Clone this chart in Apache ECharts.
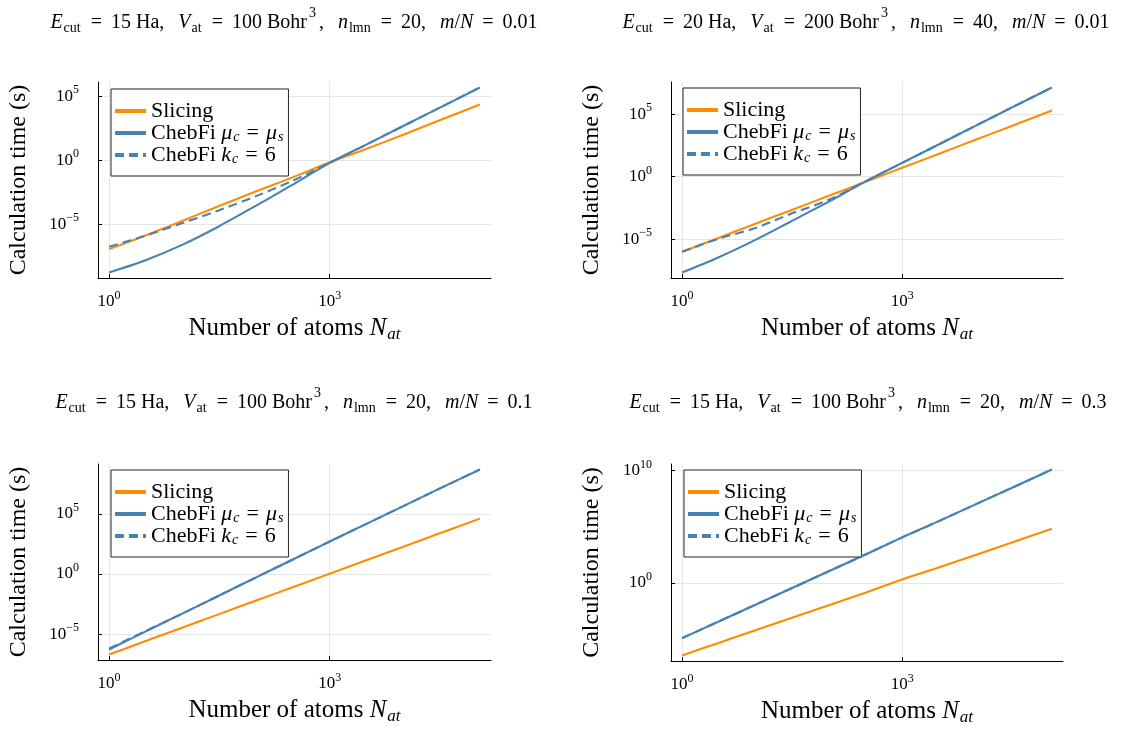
<!DOCTYPE html>
<html>
<head>
<meta charset="utf-8">
<script src="https://cdn.jsdelivr.net/npm/echarts@6/dist/echarts.min.js"></script>
<style>
  html, body { margin: 0; padding: 0; background: #ffffff; }
  #chart { width: 1131px; height: 729px; }
</style>
</head>
<body>
<div id="chart"></div>
<script>
// Number of atoms N_at at which the timings were evaluated
const atoms = [1, 3, 10, 30, 100, 300, 1000, 3000, 10000, 30000, 110000];

// Calculation time (s): Ecut = 15 Ha, Vat = 100 Bohr^3, n_lmn = 20, m/N = 0.01
const slicingA = [1.15e-7, 1.23e-6, 1.91e-5, 2.40e-4, 3.72e-3, 4.17e-2, 0.69, 6.9, 98, 1200, 22400];
const chebMuA  = [1.74e-9, 1.41e-8, 2.57e-7, 6.17e-6, 2.88e-4, 1.07e-2, 0.62, 14.5, 468, 11200, 468000];
const chebKA   = [1.74e-7, 1.2e-6, 1.26e-5, 1.12e-4, 1.58e-3, 2.24e-2, 0.62, 14.5, 468, 11200, 468000];

// Calculation time (s): Ecut = 20 Ha, Vat = 200 Bohr^3, n_lmn = 40, m/N = 0.01
const slicingB = [9.8e-7, 1.15e-5, 1.74e-4, 2.0e-3, 2.95e-2, 0.347, 5.13, 60.3, 891, 10500, 195000];
const chebMuB  = [2.19e-8, 3.16e-7, 8.9e-6, 2.51e-4, 1.0e-2, 0.355, 12.6, 331, 11700, 302000, 1.35e7];
const chebKB   = [9.8e-7, 1.0e-5, 7.9e-5, 1.05e-3, 1.41e-2, 0.355, 12.6, 331, 11700, 302000, 1.35e7];

// Calculation time (s): Ecut = 15 Ha, Vat = 100 Bohr^3, n_lmn = 20, m/N = 0.1
const slicingC = [2.04e-7, 2.4e-6, 3.55e-5, 4.17e-4, 6.17e-3, 7.24e-2, 1.07, 12.6, 186, 2190, 39800];
const chebMuC  = [5.25e-7, 1.45e-5, 5.25e-4, 1.41e-2, 0.525, 13.8, 501, 12600, 436000, 1.12e7, 4.79e8];
const chebKC   = [6.3e-7, 1.58e-5, 5.25e-4, 1.41e-2, 0.525, 13.8, 501, 12600, 436000, 1.12e7, 4.79e8];

// Calculation time (s): Ecut = 15 Ha, Vat = 100 Bohr^3, n_lmn = 20, m/N = 0.3
const slicingD = [3.39e-7, 3.98e-6, 5.89e-5, 6.92e-4, 1.02e-2, 0.117, 2.0, 20.4, 302, 3550, 64600];
const chebMuD  = [1.17e-5, 3.09e-4, 1.12e-2, 0.295, 10.7, 282, 11200, 269000, 9.77e6, 2.57e8, 1.23e10];
const chebKD   = [1.17e-5, 3.09e-4, 1.12e-2, 0.295, 10.7, 282, 11200, 269000, 9.77e6, 2.57e8, 1.23e10];

// Parameters shown in each panel title
const ecutHa  = ['15', '20', '15', '15'];
const vatBohr = ['100', '200', '100', '100'];
const nLmn    = ['20', '40', '20', '20'];
const mOverN  = ['0.01', '0.01', '0.1', '0.3'];

const seriesNames = ['Slicing', 'ChebFi \u03bcc = \u03bcs', 'ChebFi kc = 6'];

const SERIF = 'Liberation Serif';
const ORANGE = '#ff8c00';
const BLUE = '#4682b4';

const panelData = [
  [slicingA, chebMuA, chebKA],
  [slicingB, chebMuB, chebKB],
  [slicingC, chebMuC, chebKC],
  [slicingD, chebMuD, chebKD]
];

// Layout of the 2x2 arrangement
const grids = [
  { left: 98,  top: 82,  width: 393, height: 196 },
  { left: 671, top: 82,  width: 392, height: 196 },
  { left: 98,  top: 464, width: 393, height: 196 },
  { left: 671, top: 464, width: 392, height: 197 }
];
const titlePos = [
  { x: 294, y: 6 }, { x: 866, y: 6 }, { x: 294, y: 386 }, { x: 868, y: 386 }
];
const legendPos = [
  { left: 111, top: 89 }, { left: 683, top: 88 }, { left: 111, top: 470 }, { left: 684, top: 470 }
];
const yTickStep = [5, 5, 5, 10];

const log10 = Math.log10;

const base = { fontFamily: SERIF, fontWeight: 'normal', color: '#000' };
const titleRich = {
  r:   Object.assign({ fontSize: 20 }, base),
  i:   Object.assign({ fontSize: 20, fontStyle: 'italic' }, base),
  eq:  Object.assign({ fontSize: 20, padding: [0, 9, 0, 9] }, base),
  gap: Object.assign({ fontSize: 20, padding: [0, 9, 0, 0] }, base),
  sub: Object.assign({ fontSize: 14, padding: [10, 1, 0, 1] }, base),
  sup: Object.assign({ fontSize: 14, padding: [0, 3, 20, 2] }, base)
};

function titleText(k) {
  return '{i|E}{sub|cut}{eq|=}{r|' + ecutHa[k] + ' Ha,}{gap| }{i|V}{sub|at}{eq|=}{r|' + vatBohr[k] +
    ' Bohr}{sup|3}{r|,}{gap| }{i|n}{sub|lmn}{eq|=}{r|' + nLmn[k] + ',}{gap| }{i|m}{r|/}{i|N}{eq|=}{r|' +
    mOverN[k] + '}';
}

const legendText = {};
legendText[seriesNames[0]] = '{r|Slicing}';
legendText[seriesNames[1]] = '{r|ChebFi }{i|\u03bc}{sub|c}{eq|=}{i|\u03bc}{sub|s}';
legendText[seriesNames[2]] = '{r|ChebFi }{i|k}{sub|c}{eq|=}{r|6}';

function powLabel(v) {
  const e = Math.round(v);
  const s = e < 0 ? '\u2212' + Math.abs(e) : String(e);
  return '{b|10}{s|' + s + '}';
}
const tickRich = {
  b: Object.assign({ fontSize: 17 }, base),
  s: Object.assign({ fontSize: 12, padding: [0, 0, 12, 0] }, base)
};

// Plots-style padding: 3% of the log-span on each side
function paddedRange(arrays) {
  let lo = Infinity, hi = -Infinity;
  arrays.forEach(a => a.forEach(v => { const l = log10(v); lo = Math.min(lo, l); hi = Math.max(hi, l); }));
  const pad = 0.03 * (hi - lo);
  return [lo - pad, hi + pad];
}
const xRange = paddedRange([atoms]);

const option = {
  backgroundColor: '#ffffff',
  animation: false,
  title: [],
  legend: [],
  grid: [],
  xAxis: [],
  yAxis: [],
  series: []
};

panelData.forEach((sets, k) => {
  option.grid.push(Object.assign({ containLabel: false }, grids[k]));

  option.title.push({
    text: titleText(k),
    left: titlePos[k].x,
    top: titlePos[k].y,
    textAlign: 'center',
    padding: 0,
    textStyle: { fontWeight: 'normal', rich: titleRich }
  });

  const yRange = paddedRange(sets);

  option.xAxis.push({
    type: 'value',
    gridIndex: k,
    min: xRange[0],
    max: xRange[1],
    minInterval: 3,
    maxInterval: 3,
    splitNumber: 2,
    name: '{r|Number of atoms }{i|N}{sub|at}',
    nameLocation: 'middle',
    nameGap: 35,
    nameTextStyle: {
      rich: {
        r:   Object.assign({ fontSize: 25 }, base),
        i:   Object.assign({ fontSize: 25, fontStyle: 'italic' }, base),
        sub: Object.assign({ fontSize: 17, fontStyle: 'italic', padding: [13, 0, 0, 1] }, base)
      }
    },
    axisLine: { show: true, onZero: false, lineStyle: { color: '#000', width: 1 } },
    axisTick: { show: true, inside: true, length: 4, lineStyle: { color: '#000' } },
    axisLabel: {
      showMinLabel: false, showMaxLabel: false,
      margin: 12,
      formatter: powLabel,
      rich: tickRich
    },
    splitLine: { show: true, showMinLine: false, showMaxLine: false, lineStyle: { color: '#e5e5e5', width: 1 } }
  });

  option.yAxis.push({
    type: 'value',
    gridIndex: k,
    min: yRange[0],
    max: yRange[1],
    minInterval: yTickStep[k],
    maxInterval: yTickStep[k],
    splitNumber: 3,
    name: 'Calculation time (s)',
    nameLocation: 'middle',
    nameGap: 67,
    nameTextStyle: Object.assign({ fontSize: 24 }, base),
    axisLine: { show: true, onZero: false, lineStyle: { color: '#000', width: 1 } },
    axisTick: { show: true, inside: true, length: 4, lineStyle: { color: '#000' } },
    axisLabel: {
      showMinLabel: false, showMaxLabel: false,
      margin: 19,
      formatter: powLabel,
      rich: tickRich
    },
    splitLine: { show: true, showMinLine: false, showMaxLine: false, lineStyle: { color: '#e5e5e5', width: 1 } }
  });

  const styles = [
    { color: ORANGE, type: 'solid' },
    { color: BLUE, type: 'solid' },
    { color: BLUE, type: [9, 5] }
  ];
  sets.forEach((vals, s) => {
    option.series.push({
      name: seriesNames[s],
      type: 'line',
      xAxisIndex: k,
      yAxisIndex: k,
      data: atoms.map((n, j) => [log10(n), log10(vals[j])]),
      symbol: 'none',
      showSymbol: false,
      smooth: 0.3,
      clip: true,
      lineStyle: { color: styles[s].color, width: 2.1, type: styles[s].type },
      itemStyle: { color: styles[s].color },
      z: 2 + s
    });
  });

  option.legend.push({
    left: legendPos[k].left,
    top: legendPos[k].top,
    orient: 'vertical',
    data: seriesNames,
    itemWidth: 31,
    itemHeight: 14,
    itemGap: 0,
    padding: [11, 5, 10, 2],
    borderColor: '#222',
    borderWidth: 1,
    borderRadius: 0,
    backgroundColor: '#fff',
    selectedMode: false,
    lineStyle: { width: 4 },
    itemStyle: { opacity: 0 },
    formatter: name => legendText[name],
    textStyle: {
      rich: {
        r:   Object.assign({ fontSize: 22, lineHeight: 22 }, base),
        i:   Object.assign({ fontSize: 22, lineHeight: 22, fontStyle: 'italic' }, base),
        eq:  Object.assign({ fontSize: 22, lineHeight: 22, padding: [0, 7, 0, 7] }, base),
        sub: Object.assign({ fontSize: 14, lineHeight: 14, fontStyle: 'italic', padding: [8, 0, 0, 1] }, base)
      }
    }
  });
});

const chart = echarts.init(document.getElementById('chart'), null, { renderer: 'canvas' });
chart.setOption(option);
</script>
</body>
</html>
